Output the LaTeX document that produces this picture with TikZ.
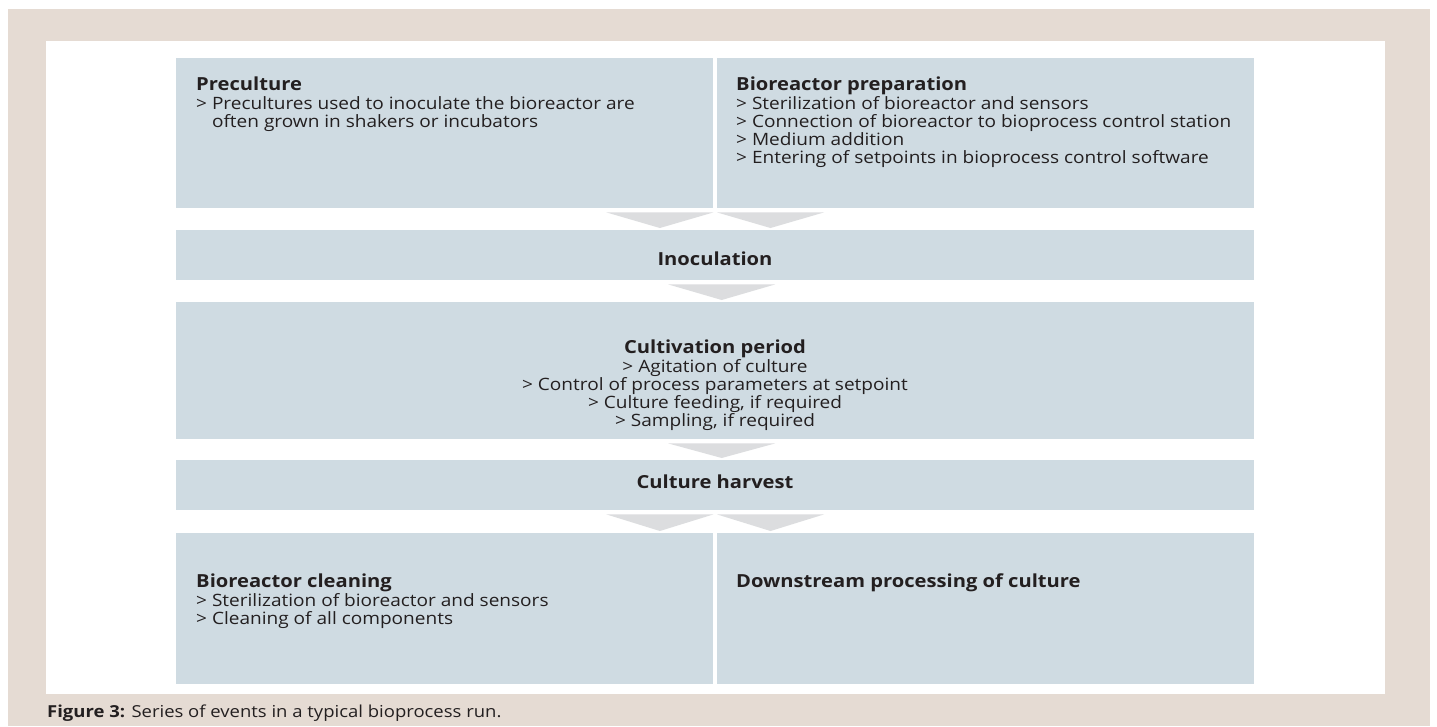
\documentclass[tikz,border=0pt]{standalone}
\usepackage{fontspec}
\setmainfont{Open Sans}[FakeStretch=1.12]
\usetikzlibrary{calc, positioning}
\definecolor{frameBeige}{HTML}{E5DBD3}
\definecolor{boxBlue}{HTML}{CFDBE2}
\definecolor{flowGray}{HTML}{DCDDDF}
\definecolor{mainBlack}{HTML}{231F20}
\tikzset{
  box/.style={fill=boxBlue, inner sep=0, anchor=north west},
  head/.style={font=\fontsize{18}{20}\selectfont\bfseries, text=mainBlack, inner sep=0},
  body/.style={font=\fontsize{17}{18}\selectfont, text=mainBlack, inner sep=0, align=left},
  flow/.style={fill=flowGray},
}

\begin{document}
\begin{tikzpicture}[x=1pt, y=-1pt]
    \useasboundingbox (0,0) rectangle (1437,726);
    \fill[frameBeige] (8,9) rectangle (1430,726);
    \fill[white] (46,41) rectangle (1385,694);

    % Boxes
    \node[box, minimum width=537pt, minimum height=150pt] (pre) at (176,58) {};
    \node[box, minimum width=537pt, minimum height=150pt] (prep) at (717,58) {};
    \node[box, minimum width=1078pt, minimum height=50pt] (inoc) at (176,230) {};
    \node[box, minimum width=1078pt, minimum height=137pt] (cult) at (176,302) {};
    \node[box, minimum width=1078pt, minimum height=50pt] (harv) at (176,460) {};
    \node[box, minimum width=537pt, minimum height=151pt] (clean) at (176,533) {};
    \node[box, minimum width=537pt, minimum height=151pt] (down) at (717,533) {};

    % Texts
    \node[head, anchor=base west] (preT) at (196,90) {Preculture};
    \node[body, anchor=north west] (preB) at (196,96) {> Precultures used to inoculate the bioreactor are\\\phantom{> }often grown in shakers or incubators};
    \node[head, anchor=base west] (prepT) at (736,90) {Bioreactor preparation};
    \node[body, anchor=north west] (prepB) at (736,96) {> Sterilization of bioreactor and sensors\\> Connection of bioreactor to bioprocess control station\\> Medium addition\\> Entering of setpoints in bioprocess control software};
    \node[head, anchor=base] (inocT) at (715,265) {Inoculation};
    \node[head, anchor=base] (cultT) at (715,353) {Cultivation period};
    \node[body, align=center, anchor=north] (cultB) at (715,359) {> Agitation of culture\\> Control of process parameters at setpoint\\> Culture feeding, if required\\> Sampling, if required};
    \node[head, anchor=base] (harvT) at (715,488) {Culture harvest};
    \node[head, anchor=base west] (cleanT) at (196,587) {Bioreactor cleaning};
    \node[body, anchor=north west] (cleanB) at (196,593) {> Sterilization of bioreactor and sensors\\> Cleaning of all components};
    \node[head, anchor=base west] (downT) at (736,587) {Downstream processing of culture};

    % Arrows
    \fill[flow] let \p1=(pre.south east), \p2=(inoc.north) in (\x1-107pt,\y1-4pt) -- (\x1,\y1-4pt) -- (\x1-53.5pt,\y2+2pt) -- cycle;
    \fill[flow] let \p1=(prep.south west), \p2=(inoc.north) in (\x1,\y1-4pt) -- (\x1+107pt,\y1-4pt) -- (\x1+53.5pt,\y2+2pt) -- cycle;
    \fill[flow] let \p1=(inoc.south), \p2=(cult.north) in (\x1-47pt,\y1-4pt) -- (\x1+60pt,\y1-4pt) -- (\x1+6.5pt,\y2+2pt) -- cycle;
    \fill[flow] let \p1=(cult.south), \p2=(harv.north) in (\x1-47pt,\y1-4pt) -- (\x1+60pt,\y1-4pt) -- (\x1+6.5pt,\y2+2pt) -- cycle;
    \fill[flow] let \p1=(clean.north east), \p2=(harv.south) in (\x1-107pt,\y2-4pt) -- (\x1,\y2-4pt) -- (\x1-53.5pt,\y1+2pt) -- cycle;
    \fill[flow] let \p1=(down.north west), \p2=(harv.south) in (\x1,\y2-4pt) -- (\x1+107pt,\y2-4pt) -- (\x1+53.5pt,\y1+2pt) -- cycle;

    % Caption
    \node[anchor=base west, inner sep=0, text=mainBlack, font=\fontsize{16.5}{18}\selectfont] (cap) at (47,717) {\textbf{Figure 3:} Series of events in a typical bioprocess run.};
\end{tikzpicture}
\end{document}
